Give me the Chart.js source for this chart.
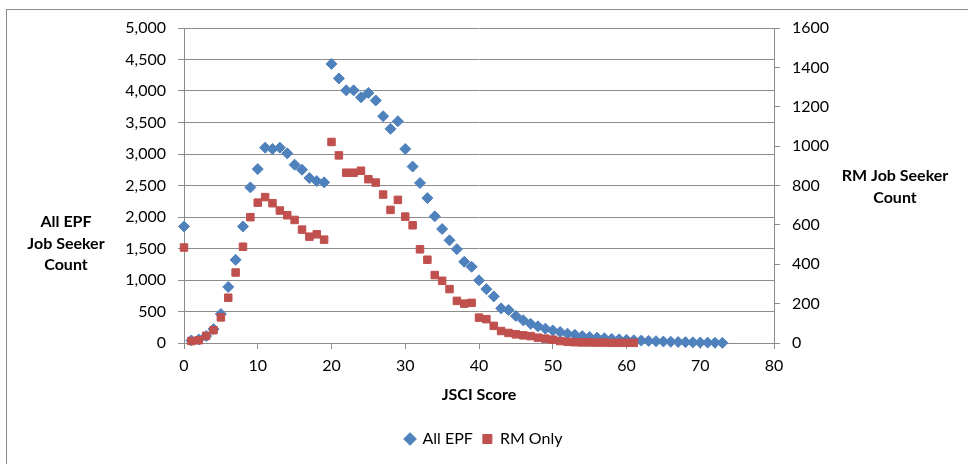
<!DOCTYPE html>
<html>
<head>
<meta charset="utf-8">
<script src="https://cdn.jsdelivr.net/npm/chart.js@4.4.0/dist/chart.umd.min.js"></script>
<style>
  html, body { margin: 0; padding: 0; background: #fff; overflow: hidden; }
  #wrap { position: relative; width: 968px; height: 464px; }
  #frame { position: absolute; left: 6px; top: 9px; width: 980px; height: 480px; border: 1px solid #8c8c8c; box-sizing: border-box; }
  canvas { position: absolute; left: 0; top: 0; }
</style>
</head>
<body>
<div id="wrap">
  <div id="frame"></div>
  <canvas id="myChart" width="968" height="464"></canvas>
</div>
<script>
var scores = [0, 1, 2, 3, 4, 5, 6, 7, 8, 9, 10, 11, 12, 13, 14, 15, 16, 17, 18, 19,
  20, 21, 22, 23, 24, 25, 26, 27, 28, 29, 30, 31, 32, 33, 34, 35, 36, 37, 38, 39,
  40, 41, 42, 43, 44, 45, 46, 47, 48, 49, 50, 51, 52, 53, 54, 55, 56, 57, 58, 59,
  60, 61, 62, 63, 64, 65, 66, 67, 68, 69, 70, 71, 72, 73];

var allEpf = [1850, 40, 55, 110, 220, 460, 890, 1320, 1850, 2470,
  2760, 3100, 3080, 3100, 3010, 2830, 2750, 2620, 2570, 2550,
  4430, 4200, 4010, 4010, 3900, 3970, 3850, 3600, 3400, 3520,
  3080, 2800, 2540, 2300, 2010, 1810, 1630, 1490, 1290, 1210,
  995, 855, 740, 550, 525, 430, 360, 305, 265, 228,
  200, 175, 148, 130, 110, 95, 85, 75, 65, 58,
  50, 44, 38, 33, 28, 24, 20, 16, 13, 10,
  8, 6, 4, 3];

var rmOnly = [485, 10, 14, 36, 65, 130, 230, 358, 489, 639,
  713, 741, 710, 673, 649, 625, 576, 540, 552, 525,
  1021, 953, 865, 865, 875, 832, 815, 754, 676, 727,
  642, 598, 476, 423, 345, 316, 274, 214, 200, 204,
  129, 121, 87, 61, 51, 44, 39, 35, 27, 22,
  17, 10, 6, 4, 3, 3, 2, 2, 1, 1,
  1, 1];

var xTitle = 'JSCI Score';
var leftTitle = ['All EPF', 'Job Seeker', 'Count'];
var rightTitle = ['RM Job Seeker', 'Count'];

var FONT = 'Lato';
var gridColor = '#8c8c8c';

function points(xs, ys) {
  return ys.map(function (v, i) { return { x: xs[i], y: v }; });
}

// horizontal axis titles at the sides, like the Excel chart
var sideTitles = {
  id: 'sideTitles',
  afterDraw: function (chart) {
    var c = chart.ctx;
    c.save();
    c.fillStyle = '#000';
    c.font = 'bold 16px ' + FONT;
    c.textAlign = 'center';
    c.textBaseline = 'middle';
    leftTitle.forEach(function (t, i) { c.fillText(t, 66, 222 + i * 21.5); });
    rightTitle.forEach(function (t, i) { c.fillText(t, 895, 176 + i * 21.5); });
    c.restore();
  }
};

var ctx = document.getElementById('myChart').getContext('2d');

var myChart = new Chart(ctx, {
  type: 'scatter',
  data: {
    datasets: [{
      label: 'All EPF',
      data: points(scores, allEpf),
      yAxisID: 'y',
      pointStyle: 'rectRot',
      pointRadius: 5.5,
      backgroundColor: '#4F81BD',
      borderColor: '#4F81BD',
      borderWidth: 1,
      clip: false,
      order: 2
    }, {
      label: 'RM Only',
      data: points(scores.slice(0, rmOnly.length), rmOnly),
      yAxisID: 'y1',
      pointStyle: 'rect',
      pointRadius: 5.3,
      backgroundColor: '#C0504D',
      borderColor: '#C0504D',
      borderWidth: 1,
      clip: false,
      order: 1
    }]
  },
  options: {
    responsive: false,
    animation: false,
    layout: { padding: { top: 28, left: 0, right: 0, bottom: 7 } },
    plugins: {
      tooltip: { enabled: false },
      legend: {
        position: 'bottom',
        labels: {
          usePointStyle: true,
          boxWidth: 9,
          boxHeight: 9,
          padding: 10,
          color: '#000',
          font: { family: FONT, size: 16 },
          sort: function (a, b) { return a.datasetIndex - b.datasetIndex; }
        }
      }
    },
    scales: {
      x: {
        type: 'linear',
        min: 0,
        max: 80,
        afterFit: function (s) { s.height = 78; },
        ticks: { stepSize: 10, color: '#000', padding: 7, font: { family: FONT, size: 16 } },
        grid: { drawOnChartArea: false, drawTicks: true, tickLength: 6, color: gridColor },
        border: { color: gridColor },
        title: {
          display: true,
          text: xTitle,
          color: '#000',
          font: { family: FONT, size: 16, weight: 'bold' },
          padding: { top: 0, bottom: 17 }
        }
      },
      y: {
        position: 'left',
        min: 0,
        max: 5000,
        afterFit: function (s) { s.width = 184; },
        ticks: {
          stepSize: 500,
          color: '#000',
          padding: 12,
          font: { family: FONT, size: 16 },
          callback: function (v) { return v.toLocaleString('en-US'); }
        },
        grid: { color: gridColor, tickLength: 6 },
        border: { color: gridColor }
      },
      y1: {
        position: 'right',
        min: 0,
        max: 1600,
        afterFit: function (s) { s.width = 194; },
        ticks: {
          stepSize: 200,
          color: '#000',
          padding: 12,
          font: { family: FONT, size: 16 },
          callback: function (v) { return String(v); }
        },
        grid: { drawOnChartArea: false, color: gridColor, tickLength: 6 },
        border: { color: gridColor }
      }
    }
  },
  plugins: [sideTitles]
});
</script>
</body>
</html>
